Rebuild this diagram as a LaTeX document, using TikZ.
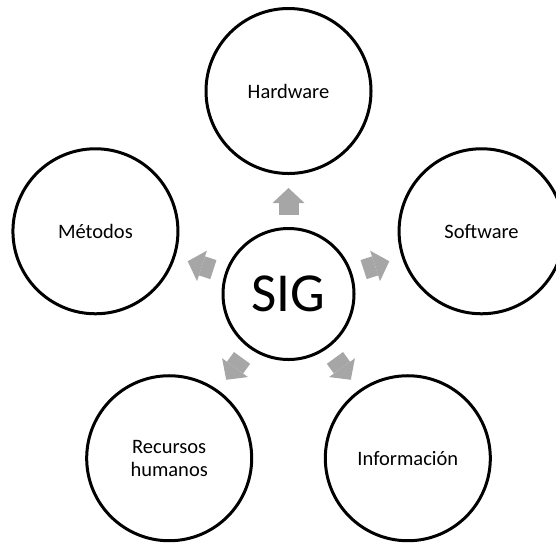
\documentclass[tikz,border=0pt]{standalone}
\usepackage{fontspec}
\setmainfont{Carlito}
\usetikzlibrary{trees,arrows.meta}
\definecolor{arrowgray}{HTML}{A6A6A6}

\begin{document}
\begin{tikzpicture}[x=1pt, y=1pt, every node/.style={align=center},
          level distance=203pt,
          level 1/.style={clockwise from=90, sibling angle=72},
          part/.style={circle, draw, line width=3pt, minimum size=165pt, inner sep=0pt,
                       font=\fontsize{20.5}{23}\selectfont},
          hub/.style={circle, draw, line width=3pt, minimum size=131pt, inner sep=0pt,
                      font=\fontsize{55}{60}\selectfont},
          edge from parent/.style={draw=arrowgray, line width=20pt,
                                   -{Triangle[length=15pt, width=32pt, line width=0pt]},
                                   shorten <=12pt, shorten >=13pt}]
    \useasboundingbox (0,0) rectangle (556,-542);
    % SIG in the middle, the five parts around it
    \node[hub] (sig) at (288.5,-294) {SIG}
        child {node[part] (hw) {Hardware}}
        child {node[part] (sw) {Software}}
        child {node[part] (info) {Información}}
        child {node[part] (rh) {Recursos\\humanos}}
        child {node[part] (met) {Métodos}};
\end{tikzpicture}
\end{document}
